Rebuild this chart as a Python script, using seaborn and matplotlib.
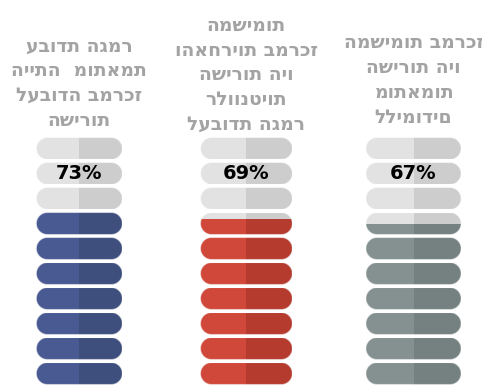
import numpy as np
import pandas as pd
import matplotlib
matplotlib.use("Agg")
import matplotlib.pyplot as plt
import seaborn as sns
from matplotlib.patches import Polygon

# ---- data ----
titles = [
    ["עבודת הגמר", "הייתה  מותאמת", "לעבודה במרכז", "השירות"],
    ["המשימות", "והאחריות במרכז", "השירות היו", "רלוונטיות", "לעבודת הגמר"],
    ["המשימות במרכז", "השירות היו", "מותאמות", "ללימודים"],
]
percents = [73, 69, 67]
pct_labels = ["73%", "69%", "67%"]

# ---- style ----
fill_light = ["#495a92", "#d0483a", "#849190"]
fill_dark = ["#3e4f7e", "#b53b2f", "#758080"]
empty_light = "#e2e2e2"
empty_dark = "#cdcdcd"
title_color = "#a3a3a3"
pill_widths = [0.515, 0.55, 0.57]
pill_h = 0.88
n_pills = 11
fill_base = 0.97
fill_span = 9
title_y = [12.62, 12.94, 12.74]

sns.set_theme(style="white")
plt.rcParams["font.family"] = ["DejaVu Sans"]

W, H, DPI = 4.82, 3.85, 100
fig = plt.figure(figsize=(W, H), dpi=DPI)
ax = fig.add_axes([0, 0, 1, 1])
xlim = (-0.475, 2.41)
ylim = (0.54, 15.94)
ax.set_xlim(*xlim)
ax.set_ylim(*ylim)
ax.axis("off")

sx = W * DPI / (xlim[1] - xlim[0])
sy = H * DPI / (ylim[1] - ylim[0])
ry = pill_h / 2
rx = ry * sy / sx


def stadium(xc, yc, w):
    t1 = np.linspace(-np.pi / 2, np.pi / 2, 40)
    t2 = np.linspace(np.pi / 2, 3 * np.pi / 2, 40)
    cr = xc + w / 2 - rx
    cl = xc - w / 2 + rx
    right = np.column_stack([cr + rx * np.cos(t1), yc + ry * np.sin(t1)])
    left = np.column_stack([cl + rx * np.cos(t2), yc + ry * np.sin(t2)])
    return np.vstack([right, left])


rows = []
for c, pct in enumerate(percents):
    level = fill_base + pct / 100 * fill_span
    w = pill_widths[c]
    for i in range(n_pills):
        bot = i - ry
        top = i + ry
        for half, (x0, el, fl) in enumerate([(c - w / 2, empty_light, fill_light[c]),
                                               (c, empty_dark, fill_dark[c])]):
            rows.append(dict(col=c, pill=i, x=x0, w=w / 2, bottom=bot, height=pill_h, color=el))
            ftop = min(level, top)
            if ftop > bot:
                rows.append(dict(col=c, pill=i, x=x0, w=w / 2, bottom=bot, height=ftop - bot, color=fl))
segs = pd.DataFrame(rows)

clips = {}
for c in range(len(percents)):
    for i in range(n_pills):
        p = Polygon(stadium(c, i, pill_widths[c]), closed=True, facecolor="none",
                    edgecolor="none")
        ax.add_patch(p)
        clips[(c, i)] = p

for _, r in segs.iterrows():
    bars = ax.bar(r["x"], r["height"], width=r["w"], bottom=r["bottom"], align="edge",
                  color=r["color"], edgecolor="none", linewidth=0)
    for b in bars:
        b.set_clip_path(clips[(r["col"], r["pill"])])

for c in range(len(percents)):
    for i in range(n_pills):
        rim = Polygon(stadium(c, i, pill_widths[c]), closed=True, facecolor="none",
                      edgecolor="white", linewidth=0.8, alpha=0.5)
        ax.add_patch(rim)

for c, lines in enumerate(titles):
    txt = "\n".join(lines)
    ax.text(c, title_y[c], txt, ha="center", va="center", fontsize=13.5,
            fontweight="bold", color=title_color, linespacing=1.38, multialignment="center")
    ax.text(c, n_pills - 2, pct_labels[c], ha="center", va="center", fontsize=14,
            fontweight="bold", color="black")

fig.savefig("out.png", dpi=DPI)
